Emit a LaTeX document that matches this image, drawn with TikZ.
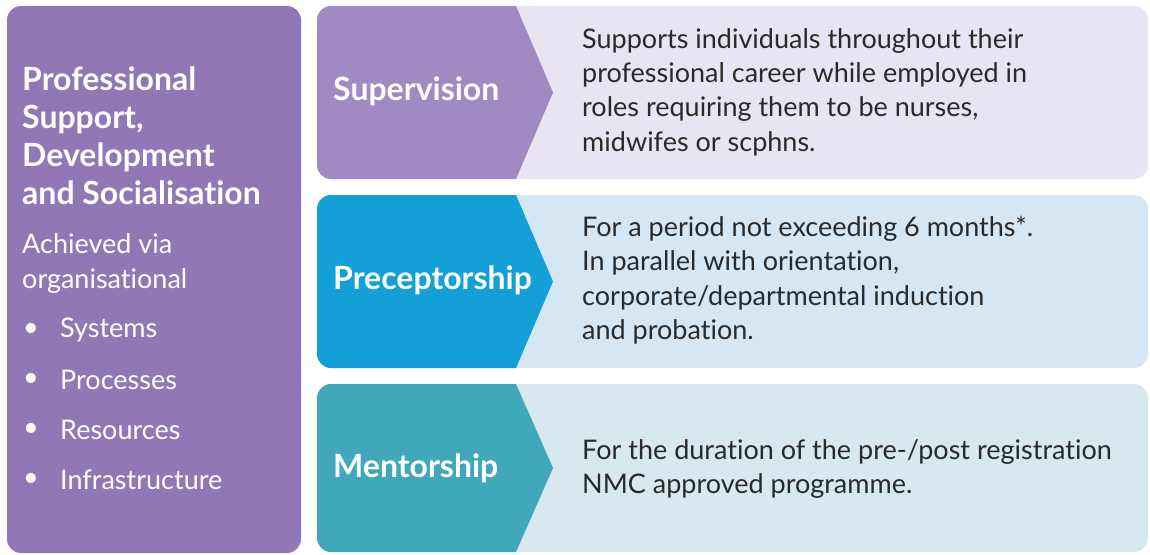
\documentclass[tikz,border=0pt]{standalone}
\usepackage{fontspec}
\setmainfont{Lato}[Ligatures=NoCommon]

\definecolor{psdPurple}{HTML}{8F78B5}
\definecolor{supDark}{HTML}{A08AC2}
\definecolor{supLight}{HTML}{E8E4F1}
\definecolor{preDark}{HTML}{12A0D7}
\definecolor{preLight}{HTML}{D5E6F4}
\definecolor{menDark}{HTML}{41A8BB}
\definecolor{menLight}{HTML}{D7E8EF}
\definecolor{bodyGrey}{HTML}{2B2A29}

\begin{document}
\begin{tikzpicture}[x=1pt,y=-1pt]
        \useasboundingbox (0,0) rectangle (1150,554);
        \fill[white] (0,0) rectangle (1150,554);
        % left panel
        \fill[psdPurple, rounded corners=14pt] (7,6) rectangle (301,553);
        % the three rows, light box with a dark arrow on its left
        \foreach \top/\bot/\dark/\light in {6/179/supDark/supLight, 195/368/preDark/preLight, 384/552/menDark/menLight}{
                \begin{scope}
                        \clip[rounded corners=14pt] (317,\top) rectangle (1148,\bot);
                        \fill[\light] (317,\top) rectangle (1148,\bot);
                        \fill[\dark] (300,\top) -- (516,\top) -- (553,{(\top+\bot)/2}) -- (516,\bot) -- (300,\bot) -- cycle;
                \end{scope}
        }
        \begin{scope}[every node/.style={inner sep=0pt, anchor=west, text=white, font=\bfseries\fontsize{32}{38}\selectfont}]
                \node (sup) at (333,91) {Supervision};
                \node (pre) at (333,280) {Preceptorship};
                \node (men) at (333,468) {Mentorship};
        \end{scope}
        \begin{scope}[every node/.style={inner sep=0pt, anchor=west, align=left, text=bodyGrey, font=\fontsize{27}{34.3}\selectfont}]
                \node (supTxt) at (582,92) {Supports individuals throughout their\\professional career while employed in\\roles requiring them to be nurses,\\midwifes or scphns.};
                \node (preTxt) at (582,280) {For a period not exceeding 6 months*.\\In parallel with orientation,\\corporate/departmental induction\\and probation.};
                \node (menTxt) at (582,469) {For the duration of the pre-/post registration\\NMC approved programme.};
        \end{scope}
        \begin{scope}[every node/.style={inner sep=0pt, anchor=north west, align=left, text=white}]
                \node[font=\bfseries\fontsize{32}{38}\selectfont] (psdTitle) at (22,67) {Professional\\Support,\\Development\\and Socialisation};
                \node[font=\fontsize{27}{35}\selectfont] (psdVia) at (22,233) {Achieved via\\organisational};
        \end{scope}
        \foreach \lbl [count=\i] in {Systems,Processes,Resources,Infrastructure}{
                \node[inner sep=0pt, text=white, font=\fontsize{27}{30}\selectfont] (dot\i) at (31,{330+50*(\i-1)}) {\textbullet};
                \node[inner sep=0pt, anchor=west, text=white, font=\fontsize{27}{30}\selectfont] (item\i) at (60,{330+50*(\i-1)}) {\lbl};
        }
\end{tikzpicture}
\end{document}
